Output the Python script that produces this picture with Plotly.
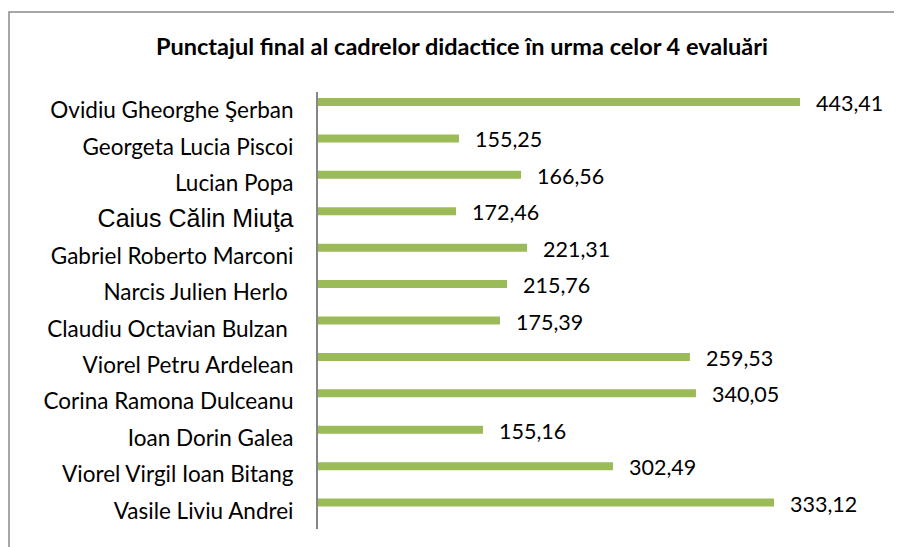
import plotly.graph_objects as go

names = [
    "Ovidiu Gheorghe Şerban",
    "Georgeta Lucia Piscoi",
    "Lucian Popa",
    "Caius Călin Miuţa",
    "Gabriel Roberto Marconi",
    "Narcis Julien Herlo\u00a0",
    "Claudiu Octavian Bulzan\u00a0",
    "Viorel Petru Ardelean",
    "Corina Ramona Dulceanu",
    "Ioan Dorin Galea",
    "Viorel Virgil Ioan Bitang",
    "Vasile Liviu Andrei",
]
# values shown as data labels
score_labels = ["443,41", "155,25", "166,56", "172,46", "221,31", "215,76",
                "175,39", "259,53", "340,05", "155,16", "302,49", "333,12"]
# bar lengths as drawn in the picture (same scale as the top bar)
bar_lengths = [443.41, 129.7, 186.8, 127.0, 192.3, 173.9,
               167.4, 342.2, 347.7, 151.8, 271.4, 419.5]

tick_text = []
for n in names:
    if n.startswith("Caius"):
        tick_text.append('<span style="font-family:Liberation Sans;font-size:25px">' + n + '</span>')
    else:
        tick_text.append(n)

FONT = "Lato"
# the page body has an 8px margin; work in page pixels and shift by it
OFF = 8
FW, FH = 902 - OFF, 547 - OFF

L, R, T, B = 318 - OFF, 880 - OFF, 92 - OFF, 529 - OFF
W, H = R - L, B - T
band = H / len(names)
bar_px = 8
lift_px = 8.2  # bars sit above the centre of their category band
bar_w = bar_px / band
bar_off = -lift_px / band - bar_w / 2

fig = go.Figure()
fig.add_trace(go.Bar(
    y=names, x=bar_lengths, orientation="h",
    width=bar_w, offset=bar_off,
    marker=dict(color="#9BBB59", line=dict(width=0)),
    hoverinfo="skip",
))

for n, v, t in zip(names, bar_lengths, score_labels):
    fig.add_annotation(x=v, y=n, text=t, xanchor="left", yanchor="middle",
                       xshift=14, yshift=lift_px - 1, showarrow=False,
                       font=dict(family=FONT, size=21.5, color="#000000"))

# outer chart frame (extends past right/bottom edges of the picture)
fig.add_shape(type="rect", xref="paper", yref="paper",
              x0=(9 - OFF - L) / W, x1=(FW + 5 - L) / W,
              y0=(B - (FH + 5)) / H, y1=(B - (12 - OFF)) / H,
              line=dict(color="#8a8a8a", width=1.5), fillcolor="rgba(0,0,0,0)",
              layer="below")

fig.update_layout(
    width=FW, height=FH,
    margin=dict(l=L, r=FW - R, t=T, b=FH - B, pad=0),
    paper_bgcolor="white", plot_bgcolor="white",
    showlegend=False,
    title=dict(text="<b>Punctajul final al cadrelor didactice în urma celor 4 evaluări</b>",
               x=(462 - OFF) / FW, xanchor="center", y=1 - (47 - OFF) / FH, yanchor="middle",
               xref="container", yref="container",
               font=dict(family=FONT, size=23.5, color="#000000")),
    xaxis=dict(range=[0, W / 1.087], visible=False, fixedrange=True),
    yaxis=dict(type="category",
               range=[len(names) - 0.5, -0.5],
               tickmode="array", tickvals=names, ticktext=tick_text,
               showline=True, linecolor="#868686", linewidth=2,
               ticks="", ticklabelstandoff=18, showgrid=False, zeroline=False,
               tickfont=dict(family=FONT, size=22.5, color="#000000")),
)

fig.write_html("out.html")
